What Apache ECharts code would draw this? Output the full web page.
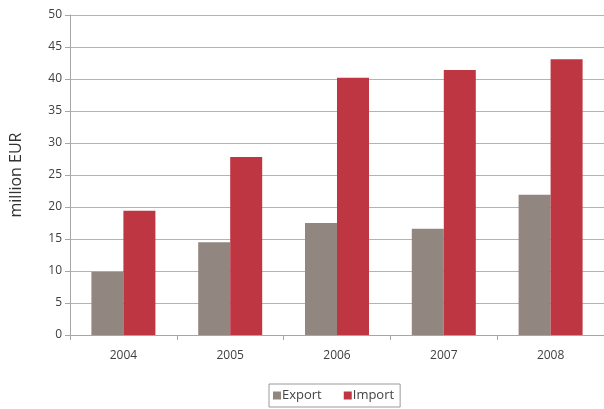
<!DOCTYPE html>
<html><head><meta charset="utf-8">
<script src="https://cdn.jsdelivr.net/npm/echarts@6/dist/echarts.min.js"></script>
<style>html,body{margin:0;padding:0;background:#fff}#c{width:604px;height:409px}</style>
</head><body><div id="c"></div>
<script>
const categories = ['2004','2005','2006','2007','2008'];
const exportValues = [9.9, 14.5, 17.5, 16.6, 21.9];
const importValues = [19.4, 27.8, 40.2, 41.4, 43.1];
const yTicks = {min: 0, max: 50, interval: 5};

const chart = echarts.init(document.getElementById('c'), null, {renderer: 'canvas'});
const font = '"Open Sans", "DejaVu Sans", sans-serif';
chart.setOption({
  animation: false,
  textStyle: {fontFamily: font},
  grid: {left: 69, right: 0, top: 15, bottom: 74, containLabel: false},
  legend: {
    left: 269, top: 384, width: 134,
    data: ['Export', 'Import'],
    icon: 'rect', itemWidth: 8, itemHeight: 8, itemGap: 22,
    borderColor: '#9a9a9a', borderWidth: 1, borderRadius: 0,
    padding: [5, 6, 5, 4],
    textStyle: {fontFamily: font, fontSize: 13, color: '#444', padding: [0, 0, 0, -4]}
  },
  xAxis: {
    type: 'category', data: categories,
    axisLine: {lineStyle: {color: '#a6a6a6', width: 1}},
    axisTick: {show: true, length: 5, alignWithLabel: false, lineStyle: {color: '#a6a6a6'}},
    axisLabel: {fontFamily: font, fontSize: 12, color: '#404040', margin: 15}
  },
  yAxis: {
    type: 'value', min: yTicks.min, max: yTicks.max, interval: yTicks.interval,
    name: 'million EUR', nameLocation: 'middle', nameGap: 46, nameRotate: 90,
    nameTextStyle: {fontFamily: font, fontSize: 16, color: '#333'},
    axisLine: {show: true, lineStyle: {color: '#a6a6a6', width: 1}},
    axisTick: {show: true, length: 5, lineStyle: {color: '#a6a6a6'}},
    axisLabel: {fontFamily: font, fontSize: 12, color: '#404040', margin: 8},
    splitLine: {show: true, lineStyle: {color: '#b3b3b3', width: 1}}
  },
  series: [
    {name: 'Export', type: 'bar', data: exportValues, barWidth: 32, barGap: '0%',
     itemStyle: {color: '#928680'}},
    {name: 'Import', type: 'bar', data: importValues, barWidth: 32, barGap: '0%',
     itemStyle: {color: '#be3642'}}
  ]
});
</script></body></html>
